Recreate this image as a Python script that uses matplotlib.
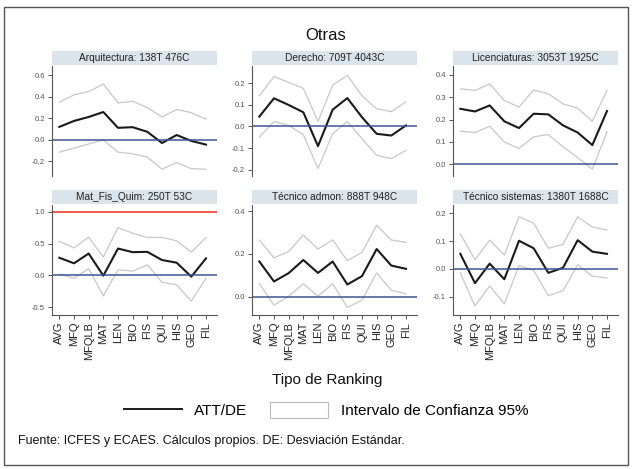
import matplotlib
matplotlib.use('Agg')
import matplotlib.pyplot as plt
from matplotlib.lines import Line2D
from matplotlib.patches import Patch, Rectangle

plt.rcParams['font.family'] = ['Liberation Sans', 'DejaVu Sans']
plt.rcParams['axes.unicode_minus'] = False

# categories on the x axis
rankings = ['AVG', 'MFQ', 'MFQLB', 'MAT', 'LEN', 'BIO', 'FIS', 'QUI', 'HIS', 'GEO', 'FIL']

titles = ['Arquitectura: 138T 476C', 'Derecho: 709T 4043C', 'Licenciaturas: 3053T 1925C',
          'Mat_Fis_Quim: 250T 53C', 'Técnico admon: 888T 948C', 'Técnico sistemas: 1380T 1688C']

# ATT/DE and 95% CI per panel
arq_att = [0.122, 0.177, 0.214, 0.26, 0.113, 0.119, 0.076, -0.028, 0.046, -0.009, -0.043]
arq_hi = [0.352, 0.42, 0.45, 0.52, 0.345, 0.36, 0.30, 0.214, 0.284, 0.254, 0.193]
arq_lo = [-0.113, -0.076, -0.037, 0.0, -0.113, -0.128, -0.159, -0.272, -0.21, -0.266, -0.272]

der_att = [0.046, 0.131, 0.10, 0.066, -0.091, 0.078, 0.132, 0.043, -0.034, -0.042, 0.005]
der_hi = [0.143, 0.232, 0.205, 0.177, 0.023, 0.192, 0.238, 0.143, 0.082, 0.069, 0.115]
der_lo = [-0.049, 0.023, 0.005, -0.038, -0.195, -0.034, 0.023, -0.057, -0.134, -0.149, -0.11]

lic_att = [0.248, 0.236, 0.263, 0.192, 0.162, 0.226, 0.223, 0.174, 0.142, 0.086, 0.238]
lic_hi = [0.337, 0.33, 0.359, 0.285, 0.256, 0.332, 0.315, 0.27, 0.251, 0.192, 0.33]
lic_lo = [0.148, 0.142, 0.17, 0.10, 0.071, 0.123, 0.133, 0.078, 0.03, -0.021, 0.145]

mfq_att = [0.278, 0.19, 0.345, -0.005, 0.423, 0.366, 0.371, 0.242, 0.20, -0.02, 0.268]
mfq_hi = [0.536, 0.433, 0.603, 0.289, 0.753, 0.665, 0.598, 0.598, 0.546, 0.366, 0.598]
mfq_lo = [0.02, -0.046, 0.108, -0.325, 0.088, 0.067, 0.165, -0.108, -0.15, -0.407, -0.046]

adm_att = [0.165, 0.072, 0.111, 0.172, 0.112, 0.165, 0.058, 0.097, 0.223, 0.146, 0.131]
adm_hi = [0.265, 0.182, 0.212, 0.288, 0.223, 0.266, 0.169, 0.208, 0.334, 0.265, 0.254]
adm_lo = [0.062, -0.038, 0.003, 0.062, 0.003, 0.062, -0.049, -0.015, 0.112, 0.031, 0.015]

sis_att = [0.054, -0.051, 0.019, -0.037, 0.101, 0.074, -0.014, 0.004, 0.103, 0.062, 0.054]
sis_hi = [0.126, 0.033, 0.103, 0.05, 0.187, 0.164, 0.074, 0.088, 0.187, 0.15, 0.14]
sis_lo = [-0.014, -0.133, -0.061, -0.125, 0.012, -0.005, -0.096, -0.078, 0.015, -0.026, -0.032]

atts = [arq_att, der_att, lic_att, mfq_att, adm_att, sis_att]
his = [arq_hi, der_hi, lic_hi, mfq_hi, adm_hi, sis_hi]
los = [arq_lo, der_lo, lic_lo, mfq_lo, adm_lo, sis_lo]

yticks = [[-0.2, 0, 0.2, 0.4, 0.6], [-0.2, -0.1, 0, 0.1, 0.2], [0, 0.1, 0.2, 0.3, 0.4],
          [-0.5, 0, 0.5, 1.0], [0, 0.2, 0.4], [-0.1, 0, 0.1, 0.2]]
ylims = [(-0.335, 0.688), (-0.230, 0.281), (-0.052, 0.439),
         (-0.625, 1.11), (-0.084, 0.428), (-0.165, 0.229)]

W, H = 634, 469
fig = plt.figure(figsize=(W / 100, H / 100), dpi=100)

# outer frame
fig.patches.append(Rectangle((4 / W, 4 / H), 624 / W, 458 / H, transform=fig.transFigure,
                             fill=False, edgecolor='#555555', linewidth=1.0))

col_left = [52, 252, 453]
row_top = [66, 205]
aw, ah = 165, 110
x = list(range(len(rankings)))

for i in range(6):
    r, c = divmod(i, 3)
    ax = fig.add_axes([col_left[c] / W, 1 - (row_top[r] + ah) / H, aw / W, ah / H])
    ax.plot(x, his[i], color='#c8c8c8', linewidth=0.9)
    ax.plot(x, los[i], color='#c8c8c8', linewidth=0.9)
    ax.plot(x, atts[i], color='#1a1a1a', linewidth=1.5)
    ax.axhline(0, color='#3d5590', linewidth=1.1)
    if i == 3:
        ax.axhline(1.0, color='#e8301e', linewidth=1.1)
    ax.set_xlim(-0.5, 10.75)
    ax.set_ylim(*ylims[i])
    ax.set_yticks(yticks[i])
    ax.set_yticklabels(['%.1f' % v for v in yticks[i]])
    for s in ['top', 'right']:
        ax.spines[s].set_visible(False)
    ax.spines['left'].set_color('#555555')
    ax.spines['left'].set_linewidth(0.8)
    ax.tick_params(axis='y', labelsize=5.5, length=3, width=0.7, colors='#555555', pad=2)
    if r == 0:
        ax.spines['bottom'].set_visible(False)
        ax.set_xticks([])
    else:
        ax.spines['bottom'].set_color('#555555')
        ax.spines['bottom'].set_linewidth(0.8)
        ax.set_xticks(x)
        ax.set_xticklabels(rankings, rotation=90, fontsize=8)
        ax.tick_params(axis='x', length=3, width=0.7, colors='#555555', pad=2, labelcolor='#222222')
    # header strip
    ax.add_patch(Rectangle((0, 1 + 1 / ah), 1, 14 / ah, transform=ax.transAxes,
                           facecolor='#dbe4ea', edgecolor='none', clip_on=False))
    ax.text(0.5, 1 + 8 / ah, titles[i], transform=ax.transAxes, ha='center', va='center',
            fontsize=7.3, color='#222222')

fig.text(326 / W, 1 - 36 / H, 'Otras', ha='center', va='center', fontsize=12, color='#111111')
fig.text(327 / W, 1 - 380 / H, 'Tipo de Ranking', ha='center', va='center', fontsize=11, color='#111111')

handles = [Line2D([], [], color='#1a1a1a', linewidth=1.4),
           Patch(facecolor='white', edgecolor='#bbbbbb', linewidth=0.8)]
fig.legend(handles, ['ATT/DE', 'Intervalo de Confianza 95%'], loc='center',
           bbox_to_anchor=(326 / W, 1 - 410 / H), ncol=2, frameon=False, fontsize=11,
           handlelength=3.8, handleheight=1.2, columnspacing=1.5, handletextpad=0.8,
           borderpad=0, borderaxespad=0)

fig.text(18 / W, 1 - 441 / H, 'Fuente: ICFES y ECAES. Cálculos propios. DE: Desviación Estándar.',
         ha='left', va='center', fontsize=9, color='#111111')

fig.savefig('out.png', dpi=100, facecolor='white')
